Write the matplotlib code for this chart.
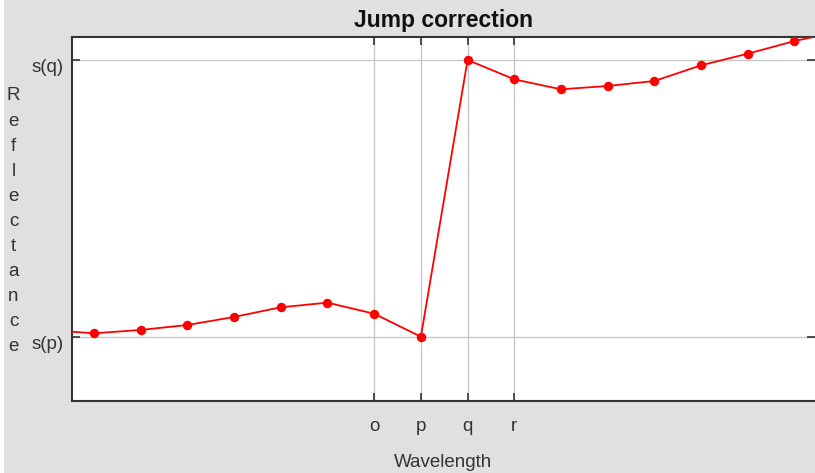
import matplotlib
matplotlib.use("Agg")
import matplotlib.pyplot as plt
import matplotlib.transforms as mtransforms

# Data (band index vs reflectance, arbitrary units)
band_index = [-1, 0, 1, 2, 3, 4, 5, 6, 7, 8, 9, 10, 11, 12, 13, 14, 15, 16]
reflectance = [0.2073, 0.2037, 0.2073, 0.2127, 0.2214, 0.2319, 0.2369, 0.2249,
               0.2000, 0.5000, 0.4790, 0.4682, 0.4718, 0.4772, 0.4942, 0.5068,
               0.5205, 0.5314]
x_tick_pos = [6, 7, 8, 9]
x_tick_labels = ["o", "p", "q", "r"]
y_tick_pos = [0.2000, 0.5000]
y_tick_labels = ["s(p)", "s(q)"]

W, H = 815, 473
fig = plt.figure(figsize=(W / 100, H / 100), dpi=100, facecolor="#e0e0e0")
# thin white strip on the left edge
fig.patches.append(plt.Rectangle((0, 0), 4 / W, 1, transform=fig.transFigure,
                                 facecolor="white", edgecolor="none", zorder=0))

L, R, T, B = 72, 815, 37, 401
ax = fig.add_axes([L / W, 1 - B / H, (R - L) / W, (B - T) / H])
ax.set_facecolor("white")

ax.plot(band_index, reflectance, color="#ff0000", lw=1.3, marker="o",
        markersize=6.8, markeredgewidth=0, zorder=3, clip_on=True)

ax.set_xlim(-0.471, 15.44)
ax.set_ylim(0.1303, 0.5249)

ax.set_xticks(x_tick_pos)
ax.set_xticklabels(x_tick_labels)
ax.set_yticks(y_tick_pos)
ax.set_yticklabels(y_tick_labels)

ax.grid(True, color="#c8c8c8", lw=1.0)
ax.set_axisbelow(True)

font = "Liberation Sans"
fs = 13.5
ax.tick_params(axis="both", direction="in", length=6, width=1.2, color="#333333",
               top=True, right=True, labelsize=fs, labelcolor="#333333", pad=12)
ax.tick_params(axis="y", pad=6)
for lab in ax.get_xticklabels() + ax.get_yticklabels():
    lab.set_family(font)

# y tick labels sit slightly below their ticks in the reference
shift = mtransforms.ScaledTranslation(0, -5.5 / 100, fig.dpi_scale_trans)
for lab in ax.get_yticklabels():
    lab.set_transform(lab.get_transform() + shift)

for s in ["left", "top", "bottom"]:
    ax.spines[s].set_color("#333333")
    ax.spines[s].set_linewidth(1.5)
ax.spines["right"].set_visible(False)

fig.text((L + R) / 2 / W, 1 - 20 / H, "Jump correction", ha="center", va="center",
         fontsize=16.5, fontweight="bold", family=font, color="#111111")
fig.text((L + R) / 2 / W, 1 - 462 / H, "Wavelength", ha="center", va="center",
         fontsize=fs, family=font, color="#333333")

ylabel = "Reflectance"
for i, ch in enumerate(ylabel):
    ypix = 96 + i * 25.07
    fig.text(13.5 / W, 1 - ypix / H, ch, ha="center", va="center",
             fontsize=fs, family=font, color="#333333")

fig.savefig("out.png", dpi=100, facecolor=fig.get_facecolor())
